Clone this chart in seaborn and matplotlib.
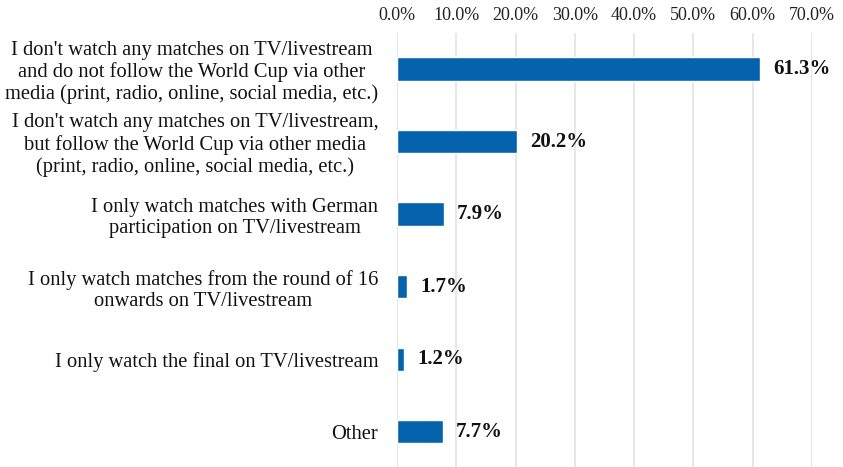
import matplotlib
matplotlib.use("Agg")
import matplotlib.pyplot as plt
import seaborn as sns
import pandas as pd
from matplotlib.ticker import FuncFormatter

categories = [
    "I don't watch any matches on TV/livestream\nand do not follow the World Cup via other\nmedia (print, radio, online, social media, etc.)",
    "I don't watch any matches on TV/livestream,\nbut follow the World Cup via other media\n(print, radio, online, social media, etc.)",
    "I only watch matches with German\nparticipation on TV/livestream",
    "I only watch matches from the round of 16\nonwards on TV/livestream",
    "I only watch the final on TV/livestream",
    "Other",
]
shares = [61.3, 20.2, 7.9, 1.7, 1.2, 7.7]
x_ticks = [0, 10, 20, 30, 40, 50, 60, 70]

df = pd.DataFrame({"category": categories, "share": shares})

sns.set_theme(style="white")
plt.rcParams["font.family"] = ["Liberation Serif", "DejaVu Serif"]

fig = plt.figure(figsize=(8.43, 4.67), dpi=100)
ax = fig.add_axes([0.471, -0.002, 0.492, 0.932])

sns.barplot(data=df, x="share", y="category", color="#0563ad",
            width=0.32, saturation=1, ax=ax, zorder=3)

ax.set_xlim(0, 70)
ax.set_xticks(x_ticks)
ax.xaxis.set_major_formatter(FuncFormatter(lambda v, _: f"{v:.1f}%"))
ax.xaxis.tick_top()
ax.tick_params(axis="x", length=0, labelsize=13, pad=6, colors="#222222")
ax.tick_params(axis="y", length=0, labelsize=14.8, pad=13.5, colors="#111111")
for lab in ax.get_yticklabels():
    lab.set_multialignment("center")
    lab.set_linespacing(1.16)
ax.set_xlabel("")
ax.set_ylabel("")
ax.grid(axis="x", color="#e3e3e3", linewidth=1.2, zorder=0)
for s in ax.spines.values():
    s.set_visible(False)

for i, v in enumerate(shares):
    ax.text(v + 2.2, i, f"{v:.1f}%", va="center", ha="left",
            fontsize=15, fontweight="bold", color="#111111")

fig.savefig("out.png", dpi=100)
